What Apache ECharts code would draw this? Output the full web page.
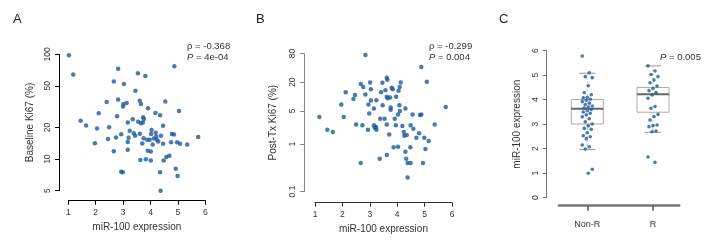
<!DOCTYPE html>
<html><head><meta charset="utf-8">
<script src="https://cdn.jsdelivr.net/npm/echarts@6/dist/echarts.min.js"></script>
<style>html,body{margin:0;padding:0;background:#fff}#c{width:712px;height:250px}</style>
</head><body><div id="c"></div>
<script>
// Panel A: miR-100 expression vs Baseline Ki67 (%)
const aX = [1.02,1.18,2.82,3.54,3.81,4.87,2.66,3.03,3.45,2.82,2.40,3.01,3.13,3.00,3.61,3.65,4.54,5.04,3.91,4.18,4.35,2.11,2.78,3.35,3.73,3.76,3.55,3.17,3.65,3.72,1.45,1.65,2.05,2.49,4.46,4.04,3.39,2.93,3.61,1.97,2.45,2.74,2.66,3.17,3.17,3.20,3.24,3.44,3.70,3.75,3.88,3.97,4.02,4.08,4.12,4.19,4.21,4.23,4.28,4.38,4.46,4.75,4.78,4.86,4.97,5.08,5.34,5.74,3.90,4.01,3.63,3.83,4.01,4.48,4.58,4.69,2.93,2.99,4.35,4.92,4.99,4.37];
const aY = [98,64,73,66,62,77,55,52,45,37,35,33.6,34.4,31.7,36,33.6,35.4,28.8,30.6,27.6,26.2,27.4,25.7,24,25.1,24.2,22.7,22.3,22,22.3,23.2,20.9,19.6,20.2,20.8,19,17.7,17.3,17.5,14.2,15.6,16.1,11.9,12.3,14.6,16.0,18.7,16.7,14.1,15.8,15.3,15.3,17.4,13.8,15.7,17.9,16.4,15.3,14.7,16.7,14.0,14.5,17.4,17.2,14.5,14.0,13.8,16.3,12,11.8,9.8,10,9.7,9.7,10.5,10.8,7.6,7.5,7.5,8.1,6.9,5.0];
const aTicksY = [5,10,20,50,100];
// Panel B: miR-100 expression vs Post-Tx Ki67 (%)
const bX = [0.98,2.84,4.88,5.08,3.62,3.64,3.46,3.01,2.67,2.76,3.04,2.12,2.46,2.40,2.84,3.41,3.57,3.80,3.84,4.13,4.09,4.05,3.96,3.62,3.65,3.74,3.24,3.04,2.95,3.15,3.47,3.76,3.76,4.08,4.30,4.10,1.96,5.77,4.56,4.83,4.88,1.16,2.05,2.98,3.38,3.54,3.91,4.03,2.50,2.73,3.15,3.23,3.62,3.95,4.19,4.49,4.59,5.37,1.45,1.65,3.24,3.71,2.93,3.18,4.24,4.26,4.35,4.70,4.80,4.99,5.15,3.87,4.03,4.30,4.48,5.03,3.62,3.36,2.67,4.33,4.38,4.49,4.94,4.38];
const bY = [75,75,42,20.5,25,22.6,19.5,19.8,18.3,15.9,14.2,12.3,10.8,8.9,11.1,12.3,13.5,15.3,14.2,19.8,15.9,13.2,9.9,9.9,9.2,9.5,8.4,8.3,6.8,5.6,6.6,5.9,5.3,6.6,5.6,5.0,6.8,6.0,4.2,4.1,4.2,3.7,3.7,4.4,3.4,3.4,3.4,4.2,2.6,2.5,2.5,2.3,2.6,2.5,2.4,2.5,2.1,2.6,2.0,1.8,2.0,1.6,2.0,2.2,1.8,1.5,1.55,1.36,1.7,1.36,1.16,0.86,0.88,0.69,0.86,0.79,0.59,0.49,0.40,0.49,0.40,0.40,0.40,0.20];
const bTicksY = [0.1,1,5,20,80];
// Panel C: miR-100 expression by response group
const groups = ['Non-R','R'];
const nonR = [5.78,5.10,4.94,4.90,4.57,4.29,4.20,4.10,4.08,4.02,3.98,3.92,3.86,3.80,3.74,3.70,3.66,3.60,3.55,3.50,3.45,3.38,3.30,3.22,3.10,3.01,2.93,2.83,2.79,2.65,2.53,2.49,2.41,2.15,2.08,1.99,1.16,1.00];
const resp = [5.38,5.17,5.03,4.94,4.80,4.69,4.56,4.46,4.37,4.29,4.19,4.06,3.72,3.65,3.40,3.31,3.17,2.97,2.94,2.90,2.72,2.69,1.66,1.44];
// box stats: [lowerWhisker, Q1, median, Q3, upperWhisker]
const boxNonR = [1.97,3.01,3.63,4.01,5.08];
const boxR = [2.67,3.49,4.22,4.50,5.38];

const FF = '"Liberation Sans", Arial, Helvetica, sans-serif';
const BLUE = '#1b5a9c';
const TXT = '#333';

function zip(x,y){return x.map((v,i)=>[v,y[i]]);}
function jitterPts(vals, g){
  return vals.map((v,i)=>({value:[g,v], symbolOffset:[((i*7)%11)-5,0]}));
}

const chart = echarts.init(document.getElementById('c'), null, {renderer:'canvas'});

function xAx(grid, off, color, title, gap){
  return {type:'value', gridIndex:grid, min:1, max:6, interval:1, offset:off,
    axisLine:{show:true, onZero:false, lineStyle:{color:color, width:1}},
    axisTick:{show:true, length:4, lineStyle:{color:color}},
    axisLabel:{fontSize:8.5, color:TXT, margin:7, fontFamily:FF},
    splitLine:{show:false},
    name:title, nameLocation:'middle', nameGap:gap,
    nameTextStyle:{fontSize:10, color:TXT, fontFamily:FF}};
}
function yLog(grid, off, color, mn, mx, ticks, title, gap){
  return {type:'log', logBase:10, gridIndex:grid, min:mn, max:mx, offset:off,
    axisLine:{show:true, onZero:false, lineStyle:{color:color, width:1}},
    axisTick:{show:true, length:4, customValues:ticks, lineStyle:{color:color}},
    axisLabel:{fontSize:8.5, color:TXT, margin:7, rotate:90, customValues:ticks, fontFamily:FF,
      formatter:v=>String(+(+v).toPrecision(3))},
    splitLine:{show:false}, minorTick:{show:false},
    name:title, nameLocation:'middle', nameGap:gap,
    nameTextStyle:{fontSize:10, color:TXT, fontFamily:FF}};
}

const boxData = [[1].concat(boxNonR), [2].concat(boxR)];

const option = {
  animation:false,
  backgroundColor:'#fff',
  grid:[
    {left:68.3, top:54.3, width:137, height:136.4},
    {left:315, top:53.6, width:137, height:138.1},
    {left:559, top:50.7, width:120.3, height:147}
  ],
  xAxis:[
    xAx(0, 10, '#000', 'miR-100 expression', 22),
    xAx(1, 11, '#333', 'miR-100 expression', 22),
    {type:'value', gridIndex:2, min:0.57, max:2.4, offset:8,
      axisLine:{show:true, onZero:false, lineStyle:{color:'#777', width:2.5}},
      axisTick:{show:true, length:5, customValues:[1,2], lineStyle:{color:'#555', width:1.5}},
      axisLabel:{fontSize:9, color:TXT, margin:14, customValues:[1,2], fontFamily:FF,
        formatter:v=>groups[Math.round(v)-1]},
      splitLine:{show:false}}
  ],
  yAxis:[
    yLog(0, 9.3, '#000', 5, 100, aTicksY, 'Baseline Ki67 (%)', 24),
    yLog(1, 11, '#888', 0.1, 80, bTicksY, 'Post-Tx Ki67 (%)', 26),
    {type:'value', gridIndex:2, min:0, max:6, interval:1, offset:12.3,
      axisLine:{show:true, onZero:false, lineStyle:{color:'#777', width:1}},
      axisTick:{show:true, length:4, lineStyle:{color:'#777'}},
      axisLabel:{fontSize:8.5, color:TXT, margin:7, rotate:90, fontFamily:FF},
      splitLine:{show:false},
      name:'miR-100 expression', nameLocation:'middle', nameGap:24,
      nameTextStyle:{fontSize:10, color:TXT, fontFamily:FF}}
  ],
  series:[
    {type:'scatter', xAxisIndex:0, yAxisIndex:0, data:zip(aX,aY), symbolSize:4.5, itemStyle:{color:BLUE}},
    {type:'scatter', xAxisIndex:1, yAxisIndex:1, data:zip(bX,bY), symbolSize:4.5, itemStyle:{color:BLUE}},
    {type:'custom', xAxisIndex:2, yAxisIndex:2, data:boxData, z:1,
      renderItem:function(params, api){
        const g = api.value(0);
        const pMin = api.coord([g, api.value(1)]);
        const pQ1 = api.coord([g, api.value(2)]);
        const pMed = api.coord([g, api.value(3)]);
        const pQ3 = api.coord([g, api.value(4)]);
        const pMax = api.coord([g, api.value(5)]);
        const cx = pMed[0], hw = 16, cw = 8;
        return {type:'group', children:[
          {type:'line', shape:{x1:cx,y1:pQ3[1],x2:cx,y2:pMax[1]}, style:{stroke:'#bbb', lineWidth:1, lineDash:[2,2]}},
          {type:'line', shape:{x1:cx,y1:pQ1[1],x2:cx,y2:pMin[1]}, style:{stroke:'#bbb', lineWidth:1, lineDash:[2,2]}},
          {type:'line', shape:{x1:cx-cw,y1:pMax[1],x2:cx+cw,y2:pMax[1]}, style:{stroke:'#999', lineWidth:1}},
          {type:'line', shape:{x1:cx-cw,y1:pMin[1],x2:cx+cw,y2:pMin[1]}, style:{stroke:'#999', lineWidth:1}},
          {type:'rect', shape:{x:cx-hw, y:pQ3[1], width:2*hw, height:pQ1[1]-pQ3[1]}, style:{stroke:'#aaa', fill:'rgba(255,255,255,0)', lineWidth:1}},
          {type:'line', shape:{x1:cx-hw,y1:pMed[1],x2:cx+hw,y2:pMed[1]}, style:{stroke:'#666', lineWidth:2}}
        ]};
      }},
    {type:'scatter', xAxisIndex:2, yAxisIndex:2, z:3, data:jitterPts(nonR,1).concat(jitterPts(resp,2)), symbolSize:3.6, itemStyle:{color:BLUE}}
  ],
  graphic:[
    {type:'text', left:13, top:13, style:{text:'A', fontSize:13, fill:'#222', fontFamily:FF}},
    {type:'text', left:256, top:13, style:{text:'B', fontSize:13, fill:'#222', fontFamily:FF}},
    {type:'text', left:499, top:13, style:{text:'C', fontSize:13, fill:'#222', fontFamily:FF}},
    {type:'text', left:187, top:41, style:{text:'ρ = -0.368', fontSize:9.5, fill:TXT, fontFamily:FF}},
    {type:'text', left:187, top:52, style:{text:'{i|P} = 4e-04', fontSize:9.5, fill:TXT, fontFamily:FF, rich:{i:{fontStyle:'italic', fontSize:9.5, fill:TXT, fontFamily:FF}}}},
    {type:'text', left:429, top:41, style:{text:'ρ = -0.299', fontSize:9.5, fill:TXT, fontFamily:FF}},
    {type:'text', left:429, top:52, style:{text:'{i|P} = 0.004', fontSize:9.5, fill:TXT, fontFamily:FF, rich:{i:{fontStyle:'italic', fontSize:9.5, fill:TXT, fontFamily:FF}}}},
    {type:'text', left:660, top:52, style:{text:'{i|P} = 0.005', fontSize:9.5, fill:TXT, fontFamily:FF, rich:{i:{fontStyle:'italic', fontSize:9.5, fill:TXT, fontFamily:FF}}}}
  ]
};
chart.setOption(option);
</script></body></html>
